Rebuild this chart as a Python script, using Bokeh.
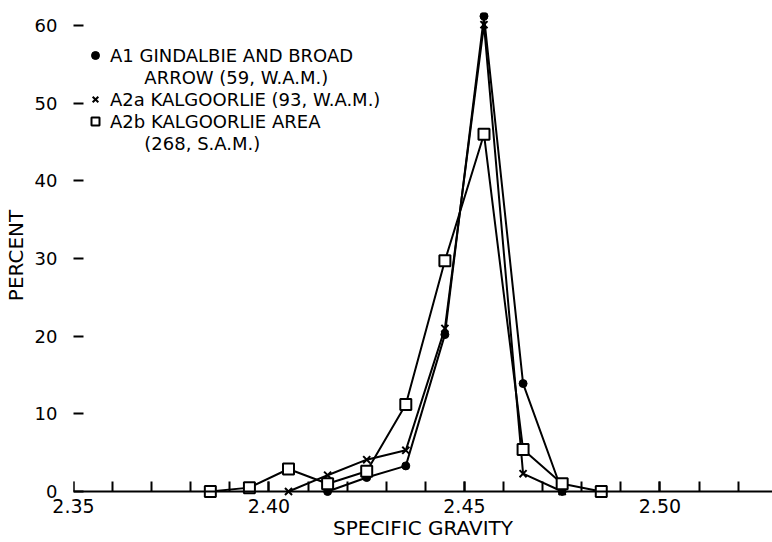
from bokeh.plotting import figure
from bokeh.models import (Range1d, LinearAxis, FixedTicker, Legend, LegendItem,
                          ColumnDataSource)
from bokeh.embed import file_html
from bokeh.resources import INLINE

# ---- data ----
sg_a1 = [2.415, 2.425, 2.435, 2.445, 2.455, 2.465, 2.475]
pct_a1 = [0.0, 1.8, 3.3, 20.2, 61.2, 13.9, 0.0]

sg_a2a = [2.405, 2.415, 2.425, 2.435, 2.445, 2.455, 2.465, 2.475]
pct_a2a = [0.0, 2.1, 4.1, 5.3, 21.0, 60.1, 2.3, 0.0]

sg_a2b = [2.385, 2.395, 2.405, 2.415, 2.425, 2.435, 2.445, 2.455, 2.465, 2.475, 2.485]
pct_a2b = [0.0, 0.5, 2.9, 1.0, 2.6, 11.2, 29.7, 46.0, 5.4, 1.0, 0.0]

legend_lines = ["A1 GINDALBIE AND BROAD",
                "ARROW (59, W.A.M.)",
                "A2a KALGOORLIE (93, W.A.M.)",
                "A2b KALGOORLIE AREA",
                "(268, S.A.M.)"]

x_major = [2.35, 2.40, 2.45, 2.50]
x_tick_labels = ["2.35", "2.40", "2.45", "2.50"]
x_minor = [round(2.35 + 0.01 * i, 2) for i in range(18)]
y_ticks = [0, 10, 20, 30, 40, 50, 60]

FONT = "DejaVu Sans"

p = figure(width=772, height=542, output_backend="svg", toolbar_location=None,
           x_range=Range1d(2.35, 2.5288), y_range=Range1d(-0.9, 61.67),
           x_axis_location=None, y_axis_location=None,
           min_border_left=72, min_border_right=0, min_border_top=12,
           min_border_bottom=42)
p.outline_line_color = None
p.xgrid.visible = False
p.ygrid.visible = False
p.background_fill_color = "white"
p.border_fill_color = "white"

ticker_x = FixedTicker(ticks=x_major, minor_ticks=x_minor)

# x axis line and ticks sitting at y = 0
xa = LinearAxis(ticker=ticker_x, fixed_location=0)
xa.axis_line_width = 2
xa.axis_line_color = "black"
xa.major_tick_in = 10
xa.major_tick_out = 0
xa.minor_tick_in = 10
xa.minor_tick_out = 0
xa.major_tick_line_width = 2
xa.minor_tick_line_width = 2
xa.major_label_text_alpha = 0
p.add_layout(xa, "below")

# x labels below the frame
xl = LinearAxis(ticker=ticker_x)
xl.axis_line_color = None
xl.major_tick_line_color = None
xl.minor_tick_line_color = None
xl.major_tick_in = 0
xl.major_tick_out = 0
xl.minor_tick_in = 0
xl.minor_tick_out = 0
xl.major_label_overrides = {v: s for v, s in zip(x_major, x_tick_labels)}
xl.major_label_text_font = FONT
xl.major_label_text_font_size = "19px"
xl.major_label_text_color = "black"
xl.major_label_standoff = 0
xl.axis_label = "SPECIFIC GRAVITY"
xl.axis_label_text_font = FONT
xl.axis_label_text_font_size = "20px"
xl.axis_label_text_font_style = "normal"
xl.axis_label_text_color = "black"
xl.axis_label_standoff = 0
p.add_layout(xl, "below")

ya = LinearAxis(ticker=FixedTicker(ticks=y_ticks, minor_ticks=[]))
ya.axis_label = "PERCENT"
ya.axis_line_color = None
ya.major_tick_in = 10
ya.major_tick_out = 0
ya.major_tick_line_width = 2
ya.major_label_text_font = FONT
ya.major_label_text_font_size = "18px"
ya.major_label_text_color = "black"
ya.major_label_standoff = 16
ya.axis_label_text_font = FONT
ya.axis_label_text_font_size = "20px"
ya.axis_label_text_font_style = "normal"
ya.axis_label_text_color = "black"
ya.axis_label_standoff = 4
p.add_layout(ya, "left")

src_a1 = ColumnDataSource(dict(x=sg_a1, y=pct_a1))
src_a2a = ColumnDataSource(dict(x=sg_a2a, y=pct_a2a))
src_a2b = ColumnDataSource(dict(x=sg_a2b, y=pct_a2b))

for src in (src_a1, src_a2a, src_a2b):
    p.line("x", "y", source=src, line_color="black", line_width=2)

r_a1 = p.scatter("x", "y", source=src_a1, marker="circle", size=8,
                 fill_color="black", line_color="black", line_width=1)
r_a2a = p.scatter("x", "y", source=src_a2a, marker="x", size=10,
                  line_color="black", line_width=2)
r_a2b = p.scatter("x", "y", source=src_a2b, marker="square", size=11,
                  fill_color="white", line_color="black", line_width=2)

indent = "\u00a0" * 6
legend = Legend(items=[LegendItem(label=legend_lines[0], renderers=[r_a1]),
                       LegendItem(label=indent + legend_lines[1], renderers=[]),
                       LegendItem(label=legend_lines[2], renderers=[r_a2a]),
                       LegendItem(label=legend_lines[3], renderers=[r_a2b]),
                       LegendItem(label=indent + legend_lines[4], renderers=[])],
                location=(12, 344))
legend.border_line_color = None
legend.background_fill_alpha = 0
legend.label_text_font = FONT
legend.label_text_font_size = "18px"
legend.label_text_color = "black"
legend.spacing = 0
legend.padding = 10
legend.glyph_width = 20
legend.glyph_height = 22
legend.label_height = 22
legend.label_standoff = 5
p.add_layout(legend, "center")

open("out.html", "w").write(file_html(p, INLINE))
